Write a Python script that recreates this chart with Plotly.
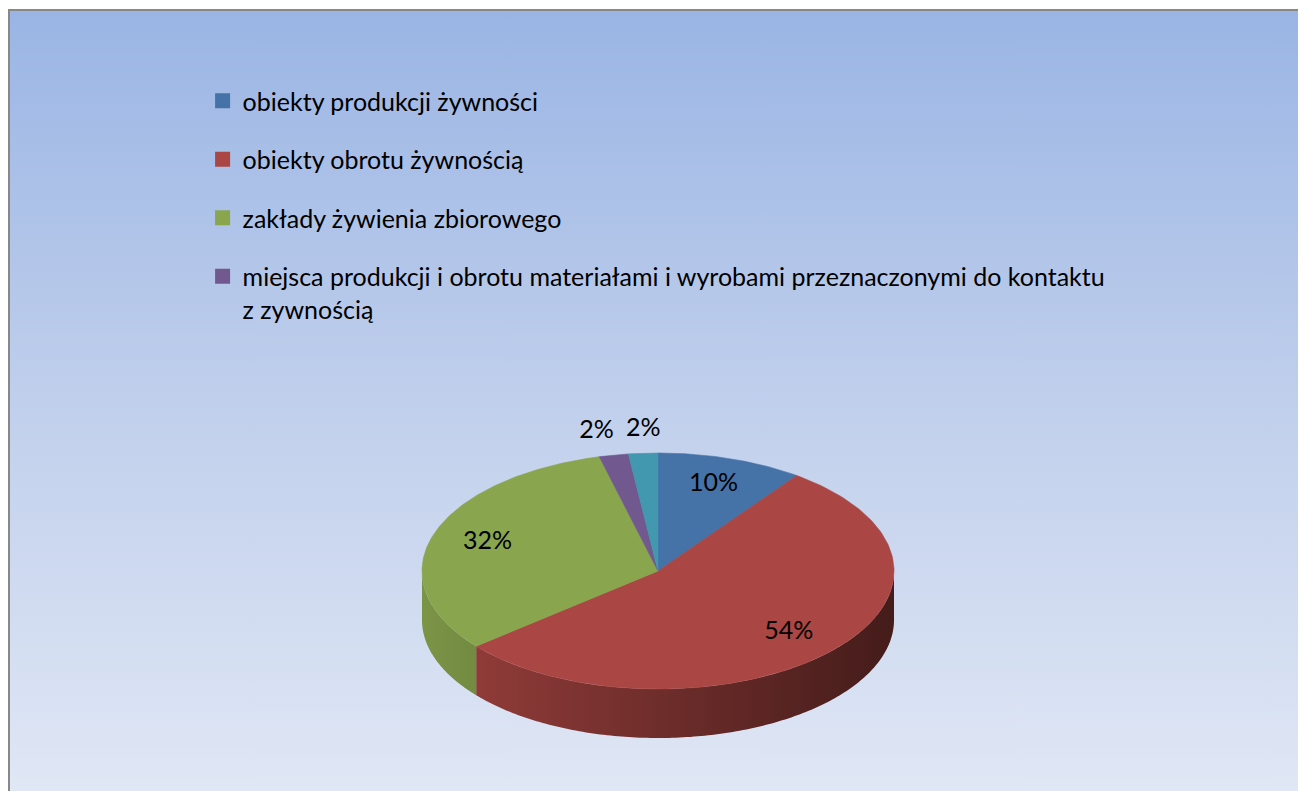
import numpy as np
import plotly.graph_objects as go

# data
categories = [
    "obiekty produkcji żywności",
    "obiekty obrotu żywnością",
    "zakłady żywienia zbiorowego",
    "miejsca produkcji i obrotu materiałami i wyrobami przeznaczonymi do kontaktu<br>z zywnością",
    "",
]
shares = [10, 54, 32, 2, 2]
slice_colors = ["#4572A7", "#AA4643", "#89A54E", "#71588F", "#4198AF"]

# page / pie geometry (pixel axes, page body has an 8px margin)
W, H = 1306, 791
OFF = 8
CX, CY = 658, 571
RX, RY = 236, 118
DEPTH = 49
FONT = "Lato"
FSIZE = 25


def shade(hex_color, f):
    h = hex_color.lstrip("#")
    r, g, b = (int(h[i:i + 2], 16) for i in (0, 2, 4))
    return f"rgb({int(r * f)},{int(g * f)},{int(b * f)})"


def arc(a0, a1, dy=0, n=160):
    t = np.linspace(a0, a1, n)
    return CX + RX * np.sin(t), CY - RY * np.cos(t) + dy


fractions = np.array(shares, dtype=float) / sum(shares)
ends = np.cumsum(fractions) * 2 * np.pi
starts = ends - fractions * 2 * np.pi

fig = go.Figure()

# gradient background of the chart area
fig.add_trace(go.Scatter(
    x=[9, W + 20, W + 20, 9, 9], y=[10, 10, H + 20, H + 20, 10],
    fill="toself", mode="none",
    fillgradient=dict(type="vertical", start=11, stop=H,
                      colorscale=[[0, "#9ab5e4"], [0.5, "#c0cfec"], [1, "#e0e7f5"]]),
    hoverinfo="skip", showlegend=False,
))

# visible side walls (front half of the ellipse)
for s, e, col in zip(starts, ends, slice_colors):
    a0, a1 = max(s, np.pi / 2), min(e, 3 * np.pi / 2)
    if a1 <= a0:
        continue
    xt, yt = arc(a0, a1)
    xb, yb = arc(a1, a0, dy=DEPTH)
    fig.add_trace(go.Scatter(
        x=np.concatenate([xt, xb, xt[:1]]), y=np.concatenate([yt, yb, yt[:1]]),
        fill="toself", mode="none",
        fillgradient=dict(type="horizontal", start=CX - RX, stop=CX + RX,
                          colorscale=[[0, shade(col, 0.9)], [1, shade(col, 0.4)]]),
        hoverinfo="skip", showlegend=False,
    ))

# top faces
for s, e, col in zip(starts, ends, slice_colors):
    xa, ya = arc(s, e)
    fig.add_trace(go.Scatter(
        x=np.concatenate([[CX], xa, [CX]]), y=np.concatenate([[CY], ya, [CY]]),
        fill="toself", mode="lines", line=dict(color=col, width=0.6),
        fillcolor=col, hoverinfo="skip", showlegend=False,
    ))

# percentage labels: inside for big slices, above the rim for small ones
mids = (starts + ends) / 2
small = fractions < 0.05
lab_x = np.where(small, CX + RX * np.sin(mids), CX + 0.76 * RX * np.sin(mids))
lab_y = np.where(small, CY - 1.2 * RY * np.cos(mids), CY - 0.77 * RY * np.cos(mids))
lab_pos = ["middle left" if (sm and np.sin(m) < -0.1) else "middle center"
           for sm, m in zip(small, mids)]
fig.add_trace(go.Scatter(
    x=lab_x, y=lab_y,
    mode="text", text=[f"{v:.0f}%" for v in fractions * 100], textposition=lab_pos,
    textfont=dict(family=FONT, size=FSIZE, color="#000000"),
    hoverinfo="skip", showlegend=False,
))

# legend entries (the last slice has no legend entry)
for i, (name, col) in enumerate(zip(categories, slice_colors)):
    if not name:
        continue
    fig.add_trace(go.Scatter(
        x=[None], y=[None], mode="markers", name=name, legendgroup=str(i),
        marker=dict(symbol="square", size=15, color=col),
    ))

fig.update_layout(
    width=W, height=H,
    margin=dict(l=0, r=0, t=0, b=0),
    paper_bgcolor="white", plot_bgcolor="rgba(0,0,0,0)",
    xaxis=dict(range=[OFF, W + OFF], visible=False, fixedrange=True),
    yaxis=dict(range=[H + OFF, OFF], visible=False, fixedrange=True),
    showlegend=True,
    legend=dict(
        x=0.149, y=1 - 70 / H, xanchor="left", yanchor="top", valign="top",
        bgcolor="rgba(0,0,0,0)", tracegroupgap=23,
        font=dict(family=FONT, size=FSIZE, color="#000000"),
    ),
    shapes=[dict(type="rect", xref="x", yref="y", x0=9, y0=10, x1=W + 20, y1=H + 20,
                 line=dict(color="#888888", width=2), fillcolor="rgba(0,0,0,0)")],
)

fig.write_html("out.html")
